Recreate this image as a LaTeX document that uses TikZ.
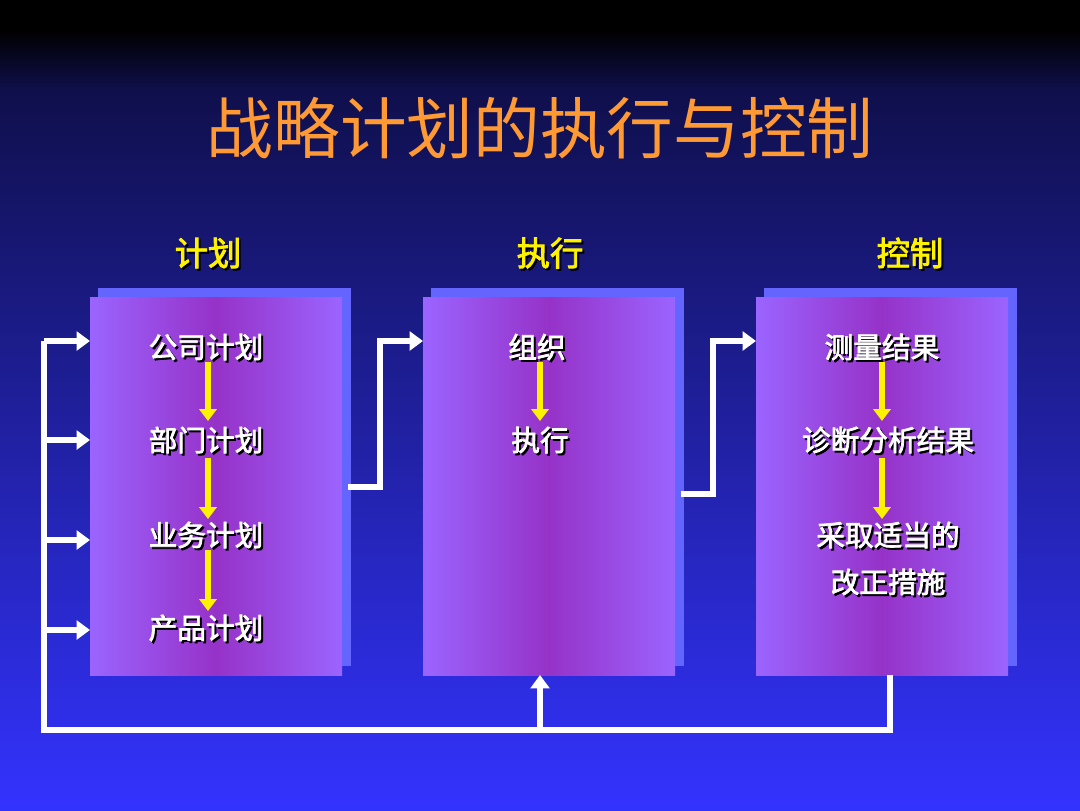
\documentclass[tikz,border=0pt]{standalone}
\usepackage{fontspec}
\setmainfont{Noto Sans CJK SC}[AutoFakeBold=2.5]
\usetikzlibrary{arrows.meta,shadings,calc}
\definecolor{bgblue}{RGB}{51,51,255}
\definecolor{ttl}{RGB}{255,153,51}
\definecolor{boxedge}{RGB}{155,100,255}
\definecolor{boxmid}{RGB}{150,50,200}
\definecolor{boxback}{RGB}{100,100,255}
\tikzset{
  hdr/.style={text=yellow,font=\bfseries\fontsize{25}{27}\selectfont},
  itm/.style={text=white,font=\bfseries\fontsize{21.5}{23}\selectfont},
  shd/.style={text=black,font=\bfseries\fontsize{21.5}{23}\selectfont},
  ybar/.style={yellow,line width=4pt,-{Triangle[length=9pt,width=13pt]}},
  wline/.style={white,line width=4.5pt},
  warr/.style={white,line width=4.5pt,-{Triangle[length=10pt,width=14pt]}},
  back/.style={fill=boxback},
  front/.style={left color=boxedge,right color=boxedge,middle color=boxmid,shading=axis,shading angle=90}
}
\newcommand{\shtext}[3]{\node[shd] at ($(#1)+(2,2)$) {#3};\node[itm] (#2) at (#1) {#3};}
\begin{document}
\begin{tikzpicture}[x=0.75pt,y=-0.75pt]
\useasboundingbox (0,0) rectangle (1080,810);
\fill[black] (0,0) rectangle (1080,30);
\shade[top color=black,bottom color=bgblue!30!black] (0,30) rectangle (1080,90);
\shade[top color=bgblue!30!black,bottom color=bgblue] (0,90) rectangle (1080,810);
\node[text=ttl,font=\fontsize{50}{53}\selectfont] (title) at (540,128) {战略计划的执行与控制};
\foreach \x/\t/\n in {208/计划/h1,550/执行/h2,910/控制/h3}{
  \node[hdr,text=black] at (\x+2,255) {\t};
  \node[hdr] (\n) at (\x,253) {\t};
}
\foreach \a in {90,423,756}{
  \fill[back] (\a+8,288) rectangle (\a+261,666);
  \shade[front] (\a,297) rectangle (\a+252,675);
}
\shtext{206,347}{p1}{公司计划}
\shtext{206,440}{p2}{部门计划}
\shtext{206,535}{p3}{业务计划}
\shtext{206,628}{p4}{产品计划}
\draw[ybar] (208,362) -- (208,421);
\draw[ybar] (208,458) -- (208,519);
\draw[ybar] (208,550) -- (208,611);
\shtext{537,347}{e1}{组织}
\shtext{540,440}{e2}{执行}
\draw[ybar] (540,362) -- (540,421);
\shtext{882,347}{c1}{测量结果}
\shtext{888,440}{c2}{诊断分析结果}
\shtext{888,535}{c3}{采取适当的}
\shtext{888,582}{c4}{改正措施}
\draw[ybar] (882,362) -- (882,421);
\draw[ybar] (882,458) -- (882,519);
\draw[warr] (348,487) -- (380,487) -- (380,341) -- (423,341);
\draw[warr] (681,494) -- (713,494) -- (713,341) -- (756,341);
\draw[wline] (890,675) -- (890,730) -- (44,730) -- (44,341);
\draw[warr] (44,341) -- (90,341);
\draw[warr] (44,440) -- (90,440);
\draw[warr] (44,540) -- (90,540);
\draw[warr] (44,630) -- (90,630);
\draw[warr] (540,730) -- (540,675);
\end{tikzpicture}
\end{document}
